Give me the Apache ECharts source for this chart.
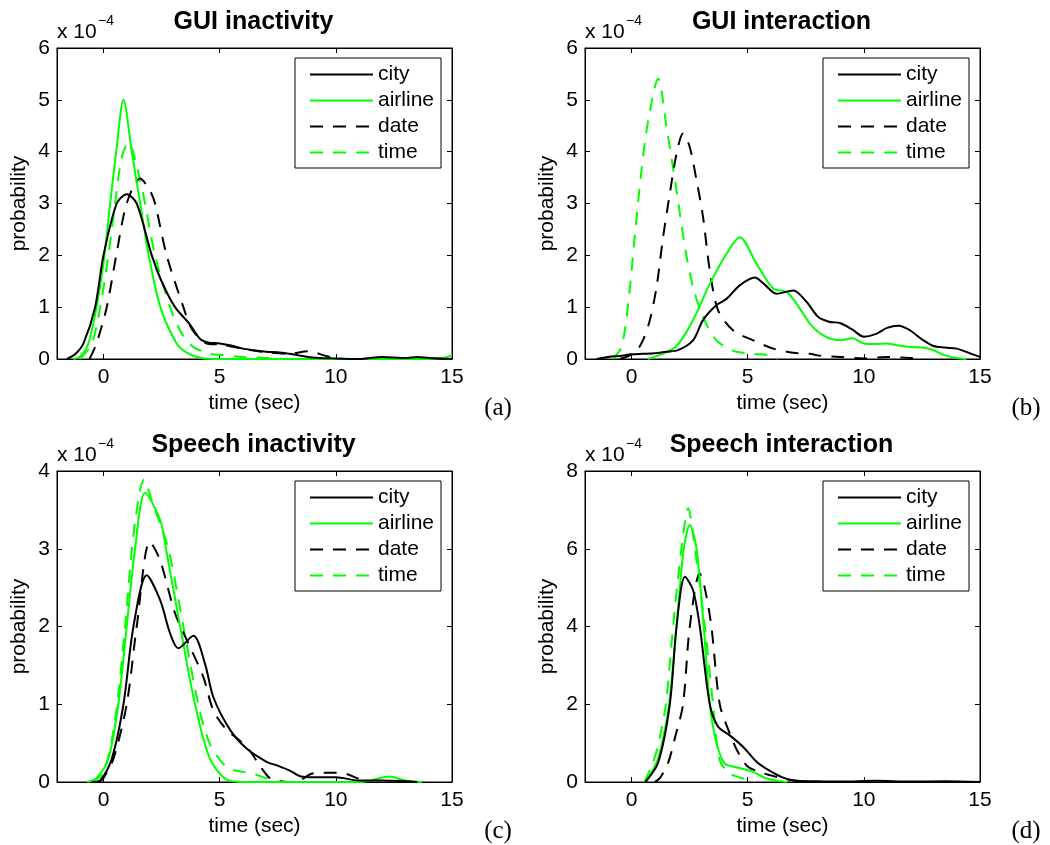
<!DOCTYPE html>
<html>
<head>
<meta charset="utf-8">
<script src="https://cdn.jsdelivr.net/npm/echarts@6/dist/echarts.min.js"></script>
<style>
html, body { margin: 0; padding: 0; background: #fff; }
#main { width: 1050px; height: 845px; }
</style>
</head>
<body>
<div id="main"></div>
<script>
// values are in units of 1e-4 as [time, probability]
const seriesNames = ['city', 'airline', 'date', 'time']
const xTicks = [0, 5, 10, 15]

// (a) GUI inactivity
const aCity = [[-1.57,0],[-1.2,0.1],[-0.86,0.3],[-0.36,1.0],[0,2.0],[0.57,3.0],[1.0,3.18],[1.43,3.0],[2.08,2.0],[2.5,1.5],[3.08,1.0],[3.7,0.68],[4.15,0.39],[4.5,0.32],[5,0.3],[5.5,0.26],[6,0.2],[7,0.14],[7.5,0.13],[8,0.1],[9,0.03],[10,0.01],[11,0],[12,0.04],[13,0.02],[13.5,0.04],[14,0.02],[15,0]]
const aAirline = [[-1.3,0],[-1,0.05],[-0.65,0.3],[-0.3,1.0],[0,1.85],[0.3,3.05],[0.55,4.0],[0.86,5.0],[1.22,4.0],[1.58,3.0],[1.95,2.0],[2.45,1.0],[3.15,0.3],[3.6,0.12],[4.2,0.02],[5,0],[14,0],[14.6,0.02],[15,0.07]]
const aDate = [[-0.6,0],[-0.3,0.3],[0.14,1.0],[0.55,2.0],[1.0,3.0],[1.58,3.48],[2.0,3.25],[2.22,3.0],[2.72,2.0],[3.44,1.0],[3.8,0.58],[4.44,0.3],[5,0.28],[6,0.2],[7,0.13],[8,0.1],[8.8,0.15],[9.5,0.07],[10,0.01],[11,0],[12,0.02],[13,0.02],[14,0.01],[15,0]]
const aTime = [[-1,0],[-0.5,0.3],[-0.14,1.0],[0.21,2.0],[0.5,3.0],[0.79,3.9],[1.07,4.17],[1.58,3.45],[1.79,3.0],[2.22,2.0],[2.87,1.0],[3.37,0.49],[3.87,0.23],[4.6,0.1],[5,0.08],[6,0.04],[7,0.02],[8,0],[15,0]]

// (b) GUI interaction
const bCity = [[-1.5,0],[-1,0.04],[-0.5,0.06],[0,0.09],[0.5,0.1],[1,0.11],[1.5,0.14],[2,0.17],[2.65,0.36],[3.08,0.75],[3.66,1.04],[4.09,1.16],[4.66,1.42],[5.31,1.57],[5.7,1.45],[6.24,1.26],[6.96,1.32],[7.54,1.1],[8.04,0.81],[8.5,0.72],[9,0.69],[9.5,0.57],[10,0.43],[10.5,0.48],[11,0.6],[11.5,0.64],[12,0.55],[12.5,0.38],[13,0.25],[13.5,0.22],[14,0.2],[14.5,0.12],[15,0.04]]
const bAirline = [[0.7,0],[1.22,0.08],[1.94,0.25],[2.65,0.75],[3.37,1.45],[4.09,2.03],[4.66,2.35],[5.38,1.84],[6.1,1.36],[6.68,1.29],[7.1,1.07],[7.68,0.68],[8.04,0.52],[8.5,0.4],[9,0.36],[9.5,0.4],[10,0.3],[10.5,0.29],[11,0.3],[11.5,0.26],[12,0.23],[12.5,0.22],[13,0.17],[13.5,0.07],[14,0.02],[14.4,0]]
const bDate = [[-0.5,0],[0.14,0.12],[0.5,0.37],[0.79,0.75],[1.08,1.39],[1.36,2.35],[1.65,3.19],[1.94,3.96],[2.22,4.35],[2.5,4.1],[2.8,3.45],[3.08,2.74],[3.37,1.71],[3.73,0.94],[4.38,0.55],[5.24,0.36],[6.1,0.2],[6.96,0.12],[7.68,0.1],[8,0.07],[9,0.04],[10,0.01],[11,0.04],[12,0.02],[12.5,0]]
const bTime = [[-0.8,0],[-0.43,0.23],[-0.14,1.07],[0.14,2.35],[0.43,3.64],[0.72,4.6],[1.15,5.41],[1.5,4.5],[1.94,3.25],[2.3,2.16],[2.65,1.39],[3.08,0.81],[3.66,0.36],[4.38,0.16],[5.24,0.1],[5.8,0.08],[6.1,0.05],[6.3,0]]

// (c) Speech inactivity
const cCity = [[-0.5,0],[-0.14,0.02],[0.36,0.3],[0.86,1.0],[1.29,2.0],[1.86,2.66],[2.44,2.34],[2.87,1.91],[3.22,1.72],[3.87,1.88],[4.37,1.52],[4.73,1.09],[5.45,0.67],[6.16,0.43],[7.02,0.26],[7.5,0.21],[8,0.15],[8.5,0.07],[9,0.06],[10,0.06],[11,0.02],[12,0.02],[13,0.01],[13.5,0]]
const cAirline = [[-0.7,0],[-0.3,0.05],[0.21,0.3],[0.64,1.0],[1.0,2.0],[1.36,3.0],[1.79,3.72],[2.44,3.37],[2.69,3.0],[3.3,2.0],[3.94,1.0],[4.58,0.3],[5.3,0.03],[6,0],[11,0],[11.5,0.02],[12.3,0.07],[13,0.02],[13.7,0]]
const cDate = [[-0.2,0],[0,0.05],[0.43,0.3],[1.0,1.0],[1.43,2.0],[2.0,3.09],[2.44,2.85],[3.08,2.17],[3.72,1.74],[4.3,1.35],[4.73,0.92],[5.3,0.67],[5.8,0.55],[6.3,0.4],[6.75,0.2],[7.16,0.05],[7.6,0.01],[8,0],[8.5,0.03],[9,0.11],[10,0.12],[10.5,0.1],[11,0.04],[11.5,0]]
const cTime = [[-0.5,0],[0,0.12],[0.5,0.8],[0.93,2.0],[1.3,3.2],[1.75,3.89],[2.1,3.6],[2.79,3.0],[3.44,2.0],[4.08,1.0],[4.58,0.49],[5.3,0.19],[6,0.13],[6.5,0.1],[7,0.05],[7.5,0.01],[8,0]]

// (d) Speech interaction
const dCity = [[0.6,0],[1.15,0.5],[1.65,2.0],[1.94,4.0],[2.3,5.28],[2.65,4.94],[2.94,4.0],[3.37,2.0],[3.73,1.42],[4.23,1.2],[4.81,0.9],[5.38,0.52],[5.81,0.34],[6.5,0.12],[7,0.04],[8,0.02],[9,0.01],[10.5,0.03],[12,0.01],[13.5,0.02],[15,0]]
const dAirline = [[0.6,0],[1.08,0.5],[1.35,1.1],[1.62,2.0],[1.94,4.0],[2.25,6.0],[2.51,6.61],[2.8,6.0],[3.11,4.0],[3.37,2.0],[3.66,1.0],[4.02,0.47],[4.52,0.38],[5.24,0.26],[5.81,0.09],[6.5,0.01],[6.7,0]]
const dDate = [[1.0,0],[1.22,0.1],[1.58,0.5],[1.9,1.2],[2.22,2.0],[2.51,4.0],[2.94,5.37],[3.15,5.0],[3.44,4.0],[3.8,2.0],[4.23,1.25],[4.6,0.75],[5,0.4],[5.5,0.26],[6,0.17],[6.5,0.09],[7,0.04],[7.5,0]]
const dTime = [[0.55,0],[0.93,0.5],[1.2,1.1],[1.48,2.0],[1.79,4.0],[2.15,6.0],[2.44,7.04],[2.73,6.0],[3.16,4.0],[3.51,2.0],[3.8,0.56],[4.23,0.22],[4.8,0.09],[5.3,0]]

const SANS = '"Liberation Sans", Arial, Helvetica, sans-serif'
const SERIF = '"Liberation Serif", "Times New Roman", serif'
const GREEN = '#00ff00'
const DASH = [13, 10]
const FS = 21

const panels = [
  { title: 'GUI inactivity', tag: '(a)', ymax: 6, step: 1, left: 57, top: 48, lines: [aCity, aAirline, aDate, aTime] },
  { title: 'GUI interaction', tag: '(b)', ymax: 6, step: 1, left: 585, top: 48, lines: [bCity, bAirline, bDate, bTime] },
  { title: 'Speech inactivity', tag: '(c)', ymax: 4, step: 1, left: 57, top: 471, lines: [cCity, cAirline, cDate, cTime] },
  { title: 'Speech interaction', tag: '(d)', ymax: 8, step: 2, left: 585, top: 471, lines: [dCity, dAirline, dDate, dTime] },
]
const W = 395, H = 311

const lineStyles = [
  { color: '#000', type: 'solid' },
  { color: GREEN, type: 'solid' },
  { color: '#000', type: DASH },
  { color: GREEN, type: DASH },
]

const grid = [], xAxis = [], yAxis = [], series = [], legend = [], graphic = []

panels.forEach((p, i) => {
  grid.push({
    left: p.left, top: p.top, width: W, height: H,
    show: true, borderColor: '#000', borderWidth: 1,
  })
  const tick = { show: true, inside: true, length: 5, lineStyle: { color: '#000', width: 1 } }
  const axLine = { show: true, onZero: false, lineStyle: { color: '#000', width: 1 } }
  // bottom / top x axes
  xAxis.push({
    gridIndex: i, type: 'value', min: -2, max: 15, position: 'bottom',
    axisLine: axLine, splitLine: { show: false },
    axisTick: Object.assign({ customValues: xTicks }, tick),
    axisLabel: { customValues: xTicks, color: '#000', fontSize: FS, fontFamily: SANS, margin: 8 },
    name: 'time (sec)', nameLocation: 'middle', nameGap: 34,
    nameTextStyle: { color: '#000', fontSize: FS, fontFamily: SANS },
  })
  xAxis.push({
    gridIndex: i, type: 'value', min: -2, max: 15, position: 'top',
    axisLine: axLine, splitLine: { show: false },
    axisTick: Object.assign({ customValues: xTicks }, tick),
    axisLabel: { show: false },
  })
  // left / right y axes
  yAxis.push({
    gridIndex: i, type: 'value', min: 0, max: p.ymax, interval: p.step, position: 'left',
    axisLine: axLine, splitLine: { show: false }, axisTick: tick,
    axisLabel: { color: '#000', fontSize: FS, fontFamily: SANS, margin: 7 },
    name: 'probability', nameLocation: 'middle', nameGap: 27, nameRotate: 90,
    nameTextStyle: { color: '#000', fontSize: FS, fontFamily: SANS },
  })
  yAxis.push({
    gridIndex: i, type: 'value', min: 0, max: p.ymax, interval: p.step, position: 'right',
    axisLine: axLine, splitLine: { show: false }, axisTick: tick,
    axisLabel: { show: false },
  })

  p.lines.forEach((data, k) => {
    series.push({
      type: 'line', name: seriesNames[k],
      xAxisIndex: i * 2, yAxisIndex: i * 2,
      data: data, smooth: 0.3, symbol: 'none', showSymbol: false,
      lineStyle: { color: lineStyles[k].color, width: 2, type: lineStyles[k].type },
      itemStyle: { color: lineStyles[k].color },
      z: 4 - k,
    })
  })

  legend.push({
    show: true, orient: 'vertical', left: p.left + 238, top: p.top + 10,
    data: seriesNames, selectedMode: false,
    itemWidth: 63, itemHeight: 14, itemGap: 5,
    padding: [6, 7, 5, 14],
    borderColor: '#000', borderWidth: 1, backgroundColor: '#fff',
    itemStyle: { opacity: 0 },
    textStyle: { color: '#000', fontSize: FS, fontFamily: SANS },
  })

  graphic.push(
    { type: 'text', x: p.left + W / 2 - 1, y: p.top - 26, style: {
      text: p.title, fill: '#000', fontSize: 25, fontWeight: 'bold', fontFamily: SANS,
      align: 'center', verticalAlign: 'middle' } },
    { type: 'text', x: p.left, y: p.top - 16, style: {
      text: 'x 10', fill: '#000', fontSize: FS, fontFamily: SANS,
      align: 'left', verticalAlign: 'middle' } },
    { type: 'text', x: p.left + 41, y: p.top - 27, style: {
      text: '\u22124', fill: '#000', fontSize: 14, fontFamily: SANS,
      align: 'left', verticalAlign: 'middle' } },
    { type: 'text', x: p.left + W + 46, y: p.top + H + 49, style: {
      text: p.tag, fill: '#000', fontSize: 25, fontFamily: SERIF,
      align: 'center', verticalAlign: 'middle' } }
  )
})

const chart = echarts.init(document.getElementById('main'))
chart.setOption({
  animation: false,
  backgroundColor: '#fff',
  grid, xAxis, yAxis, series, legend, graphic,
})
</script>
</body>
</html>
